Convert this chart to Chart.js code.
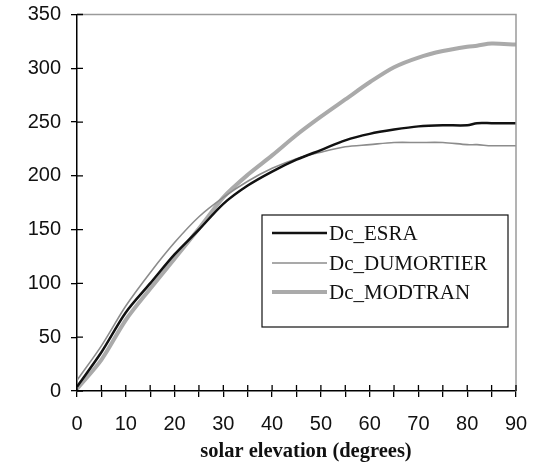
<!DOCTYPE html>
<html>
<head>
<meta charset="utf-8">
<script src="https://cdn.jsdelivr.net/npm/chart.js@4"></script>
<style>
  html, body { margin: 0; padding: 0; background: #fff; }
  #wrap { width: 537px; height: 470px; }
</style>
</head>
<body>
<div id="wrap"><canvas id="chart"></canvas></div>
<script>
/* data */
const elevation = [0, 5, 10, 15, 20, 25, 30, 35, 40, 45, 50, 55, 60, 65, 70, 75, 80, 82, 85, 90];
const esra      = [4, 36, 73, 100, 127, 150, 174, 191, 204, 215, 224, 233, 239, 243, 246, 247, 247, 249, 249, 249];
const dumortier = [10, 42, 79, 110, 138, 162, 180, 195, 207, 216, 222, 227, 229, 231, 231, 231, 229, 229, 228, 228];
const modtran   = [2, 29, 66, 95, 123, 151, 180, 201, 219, 238, 255, 271, 287, 301, 310, 316, 320, 321, 323, 322];

const seriesNames = ['Dc_ESRA', 'Dc_DUMORTIER', 'Dc_MODTRAN'];
const yTicks = [0, 50, 100, 150, 200, 250, 300, 350];
const xTitle = 'solar elevation (degrees)';

function pts(vals) {
  return elevation.map((x, i) => ({ x: x, y: vals[i] }));
}

/* =========================
   frame, crossing ticks, legend, title
========================= */
const framePlugin = {
  id: 'frame',
  afterDraw(chart) {
    const ctx = chart.ctx;
    const a = chart.chartArea;
    const xs = chart.scales.x;
    const ys = chart.scales.y;
    ctx.save();

    // grey top + right border
    ctx.strokeStyle = '#9a9a9a';
    ctx.lineWidth = 1.5;
    ctx.beginPath();
    ctx.moveTo(a.left, a.top);
    ctx.lineTo(a.right, a.top);
    ctx.lineTo(a.right, a.bottom);
    ctx.stroke();

    // inner half of the tick marks
    ctx.strokeStyle = '#000';
    ctx.lineWidth = 1.3;
    ctx.beginPath();
    xs.ticks.forEach(t => {
      const px = xs.getPixelForValue(t.value);
      ctx.moveTo(px, a.bottom);
      ctx.lineTo(px, a.bottom - 6);
    });
    ys.ticks.forEach(t => {
      const py = ys.getPixelForValue(t.value);
      ctx.moveTo(a.left, py);
      ctx.lineTo(a.left + 6, py);
    });
    ctx.stroke();

    // legend box
    const bx = 262, by = 215, bw = 246, bh = 112;
    ctx.fillStyle = '#fff';
    ctx.fillRect(bx, by, bw, bh);
    ctx.strokeStyle = '#111';
    ctx.lineWidth = 1.2;
    ctx.strokeRect(bx, by, bw, bh);
    const rowY = [233, 263, 292];
    chart.data.datasets.forEach((ds, i) => {
      ctx.strokeStyle = ds.borderColor;
      ctx.lineWidth = ds.borderWidth;
      ctx.beginPath();
      ctx.moveTo(272, rowY[i]);
      ctx.lineTo(327, rowY[i]);
      ctx.stroke();
      ctx.fillStyle = '#111';
      ctx.font = '21px "Liberation Serif", "Times New Roman", serif';
      ctx.textBaseline = 'middle';
      ctx.textAlign = 'left';
      ctx.fillText(ds.label, 329, rowY[i] + 1);
    });

    // axis title
    ctx.fillStyle = '#111';
    ctx.font = 'bold 20.5px "Liberation Serif", "Times New Roman", serif';
    ctx.textAlign = 'center';
    ctx.textBaseline = 'alphabetic';
    ctx.fillText(xTitle, 306, 457);
    ctx.restore();
  }
};

/* =========================
   chart
========================= */
const ctx = document.getElementById('chart').getContext('2d');
const chart = new Chart(ctx, {
  type: 'line',
  data: {
    datasets: [
      {
        label: seriesNames[0],
        data: pts(esra),
        borderColor: '#111',
        borderWidth: 2.5,
        pointRadius: 0,
        tension: 0.3,
        order: 1
      },
      {
        label: seriesNames[1],
        data: pts(dumortier),
        borderColor: '#8c8c8c',
        borderWidth: 1.6,
        pointRadius: 0,
        tension: 0.3,
        order: 2
      },
      {
        label: seriesNames[2],
        data: pts(modtran),
        borderColor: '#aaaaaa',
        borderWidth: 4,
        pointRadius: 0,
        tension: 0.3,
        order: 3
      }
    ]
  },
  options: {
    animation: false,
    responsive: true,
    maintainAspectRatio: false,
    layout: { padding: { top: 14.5, right: 21, left: 0, bottom: 0 } },
    plugins: {
      legend: { display: false },
      tooltip: { enabled: false }
    },
    scales: {
      x: {
        type: 'linear',
        min: 0,
        max: 90,
        afterFit: s => { s.height = 79; s.paddingLeft = 0; s.paddingRight = 0; },
        border: { color: '#000', width: 1.5 },
        grid: { drawOnChartArea: false, drawTicks: true, tickLength: 6, color: '#000', lineWidth: 1.3 },
        ticks: {
          stepSize: 5,
          padding: 15,
          color: '#111',
          font: { family: '"Liberation Sans", Arial, sans-serif', size: 20 },
          maxRotation: 0,
          autoSkip: false,
          callback: v => (v % 10 === 0 ? String(v) : '')
        }
      },
      y: {
        min: 0,
        max: 350,
        afterFit: s => { s.width = 77; s.paddingTop = 0; s.paddingBottom = 0; },
        afterBuildTicks: s => { s.ticks = yTicks.map(v => ({ value: v })); },
        border: { color: '#000', width: 1.5 },
        grid: { drawOnChartArea: false, drawTicks: true, tickLength: 6, color: '#000', lineWidth: 1.3 },
        ticks: {
          padding: 10,
          color: '#111',
          font: { family: '"Liberation Sans", Arial, sans-serif', size: 20 }
        }
      }
    }
  },
  plugins: [framePlugin]
});
</script>
</body>
</html>
